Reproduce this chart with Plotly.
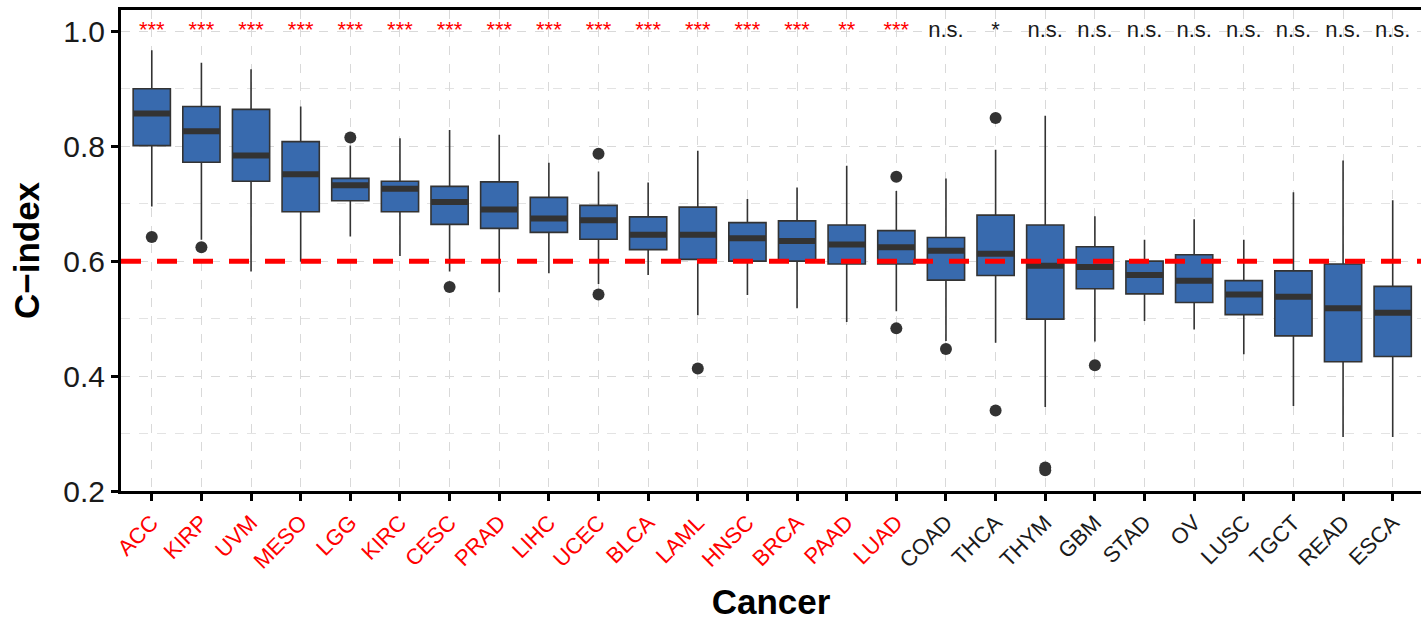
import plotly.graph_objects as go

# Cancer types, ordered by median C-index
cancers = ["ACC", "KIRP", "UVM", "MESO", "LGG", "KIRC", "CESC", "PRAD", "LIHC",
           "UCEC", "BLCA", "LAML", "HNSC", "BRCA", "PAAD", "LUAD", "COAD", "THCA",
           "THYM", "GBM", "STAD", "OV", "LUSC", "TGCT", "READ", "ESCA"]

# Box statistics of the C-index per cancer
lower_whisker = [0.695, 0.637, 0.582, 0.599, 0.643, 0.609, 0.582, 0.546, 0.579,
                 0.560, 0.576, 0.506, 0.541, 0.518, 0.494, 0.513, 0.461, 0.458,
                 0.346, 0.460, 0.496, 0.481, 0.438, 0.348, 0.294, 0.294]
q1 = [0.801, 0.772, 0.739, 0.686, 0.705, 0.686, 0.664, 0.657, 0.650,
      0.638, 0.620, 0.603, 0.600, 0.600, 0.595, 0.595, 0.567, 0.575,
      0.499, 0.552, 0.543, 0.528, 0.507, 0.470, 0.425, 0.434]
median = [0.857, 0.826, 0.784, 0.751, 0.732, 0.726, 0.703, 0.690, 0.674,
          0.671, 0.646, 0.646, 0.640, 0.635, 0.629, 0.624, 0.618, 0.613,
          0.592, 0.590, 0.576, 0.566, 0.542, 0.538, 0.518, 0.510]
q3 = [0.900, 0.869, 0.864, 0.808, 0.744, 0.739, 0.730, 0.738, 0.711,
      0.697, 0.677, 0.694, 0.667, 0.670, 0.663, 0.653, 0.641, 0.680,
      0.663, 0.625, 0.600, 0.611, 0.566, 0.583, 0.595, 0.556]
upper_whisker = [0.967, 0.945, 0.934, 0.869, 0.801, 0.814, 0.828, 0.820, 0.771,
                 0.756, 0.737, 0.792, 0.708, 0.728, 0.766, 0.722, 0.744, 0.794,
                 0.853, 0.678, 0.637, 0.673, 0.637, 0.720, 0.775, 0.706]

# Outlying C-index values (cancer, value)
outlier_cancer = ["ACC", "KIRP", "LGG", "CESC", "UCEC", "UCEC", "LAML", "LUAD", "LUAD",
                  "COAD", "THCA", "THCA", "THYM", "THYM", "GBM"]
outlier_value = [0.642, 0.624, 0.815, 0.555, 0.787, 0.542, 0.413, 0.747, 0.483,
                 0.447, 0.849, 0.340, 0.241, 0.236, 0.419]

# Significance of C-index > 0.6
signif = ["***", "***", "***", "***", "***", "***", "***", "***", "***",
          "***", "***", "***", "***", "***", "**", "***", "n.s.", "*",
          "n.s.", "n.s.", "n.s.", "n.s.", "n.s.", "n.s.", "n.s.", "n.s."]

threshold = 0.6
label_y = 1.0

FONT = "Liberation Sans, Arial, sans-serif"
BOX_FILL = "#386AAE"
DARK = "#333333"
RED = "#FF0000"

pos = list(range(len(cancers)))
box_w = 0.75
significant = [s != "n.s." and s != "*" for s in signif]
label_colors = [RED if s else "#1a1a1a" for s in significant]
star_colors = [RED if s else "#1a1a1a" for s in significant]

fig = go.Figure()

fig.add_trace(go.Box(
    x=pos, q1=q1, median=median, q3=q3,
    lowerfence=lower_whisker, upperfence=upper_whisker,
    width=box_w, whiskerwidth=0,
    fillcolor=BOX_FILL, line=dict(color=DARK, width=1.6),
    boxpoints=False, showlegend=False, hoverinfo="skip",
))

# thick median bars
mx, my = [], []
for p, m in zip(pos, median):
    mx += [p - box_w / 2, p + box_w / 2, None]
    my += [m, m, None]
fig.add_trace(go.Scatter(x=mx, y=my, mode="lines",
                         line=dict(color=DARK, width=6),
                         showlegend=False, hoverinfo="skip"))

# outliers
idx = {c: i for i, c in enumerate(cancers)}
fig.add_trace(go.Scatter(x=[idx[c] for c in outlier_cancer], y=outlier_value,
                         mode="markers",
                         marker=dict(color=DARK, size=12),
                         showlegend=False, hoverinfo="skip"))

# significance labels
fig.add_trace(go.Scatter(x=pos, y=[label_y] * len(pos), mode="text",
                         text=signif, textposition="middle center",
                         textfont=dict(family=FONT, size=22, color=star_colors),
                         showlegend=False, hoverinfo="skip"))

# reference threshold
fig.add_shape(type="line", xref="paper", x0=0, x1=1, yref="y",
              y0=threshold, y1=threshold,
              line=dict(color=RED, width=5, dash="20px,16px"), layer="above")

ticktext = [f'<span style="color:{c}">{n}</span>' for n, c in zip(cancers, label_colors)]

fig.update_layout(
    width=1421, height=621,
    margin=dict(l=121, r=0, t=10, b=130),
    plot_bgcolor="white", paper_bgcolor="white",
    font=dict(family=FONT, color="#1a1a1a"),
    showlegend=False,
)

fig.update_xaxes(
    range=[-0.62, 25.57],
    tickmode="array", tickvals=pos, ticktext=ticktext, tickangle=-45,
    tickfont=dict(size=22),
    showgrid=True, gridcolor="#d9d9d9", griddash="dash", gridwidth=1.2,
    showline=True, linecolor="black", linewidth=3, mirror=True,
    ticks="outside", ticklen=7, tickwidth=3, tickcolor="black",
    zeroline=False,
    title=dict(text="Cancer", font=dict(size=35, weight="bold", color="black"), standoff=17),
)

fig.update_yaxes(
    range=[0.2, 1.037],
    tickmode="array", tickvals=[0.2, 0.4, 0.6, 0.8, 1.0],
    ticktext=["0.2", "0.4", "0.6", "0.8", "1.0"],
    tickfont=dict(size=30),
    showgrid=True, gridcolor="#d9d9d9", griddash="dash", gridwidth=1.2,
    minor=dict(tickvals=[0.3, 0.5, 0.7, 0.9], showgrid=True,
               gridcolor="#e3e3e3", griddash="dash", gridwidth=1),
    showline=True, linecolor="black", linewidth=3, mirror=False,
    ticks="outside", ticklen=7, tickwidth=3, tickcolor="black",
    zeroline=False,
    title=dict(text="C\u2212index", font=dict(size=35, weight="bold", color="black"), standoff=14),
)

fig.write_html("out.html")
